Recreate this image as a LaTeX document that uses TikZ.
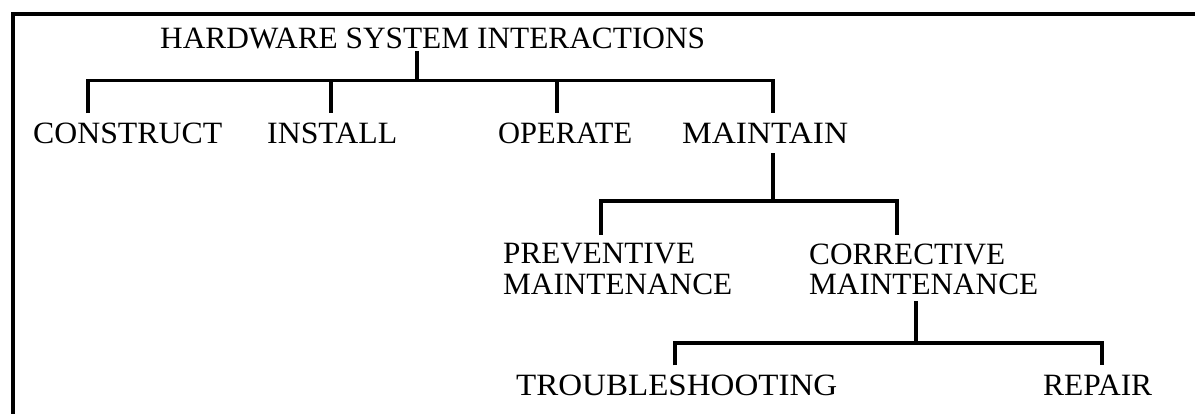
\documentclass[tikz,border=0pt]{standalone}
\usepackage{fontspec}
\setmainfont{Liberation Serif}
\usepackage{graphicx}
\newcommand{\fitw}[2]{\resizebox{#1pt}{\height}{#2}}
\begin{document}
\begin{tikzpicture}[x=1pt,y=-1pt,
  lbl/.style={inner xsep=0pt, inner ysep=2pt, font=\fontsize{31}{30.6}\selectfont, anchor=base west},
  lbltwo/.style={lbl, anchor=north west, align=left},
  conn/.style={line width=3.8pt, line cap=butt, line join=miter},
  framel/.style={line width=4pt, line join=miter}]
\useasboundingbox (0,0) rectangle (1195,414);
\draw[framel] (13,420) -- (13,14) -- (1200,14);

% labels
\node[lbl] (hsi)  at (160,48.3)  {\fitw{545}{HARDWARE SYSTEM INTERACTIONS}};
\node[lbl] (cons) at (33,143.3)  {\fitw{189}{CONSTRUCT}};
\node[lbl] (inst) at (267,143.3) {\fitw{130}{INSTALL}};
\node[lbl] (oper) at (498,143.3) {\fitw{134}{OPERATE}};
\node[lbl] (main) at (682,143.3) {\fitw{166}{MAINTAIN}};
\node[lbltwo] (prev) at (503,241.3) {\fitw{192}{PREVENTIVE}\\\fitw{229}{MAINTENANCE}};
\node[lbltwo] (corr) at (809,241.3) {\fitw{196}{CORRECTIVE}\\\fitw{229}{MAINTENANCE}};
\node[lbl] (trou) at (516,395)   {\fitw{321}{TROUBLESHOOTING}};
\node[lbl] (rep)  at (1043,395)  {\fitw{109}{REPAIR}};

% junction coordinates
\coordinate (j0) at (416.7,80.5);
\coordinate (j1) at (88,80.5);
\coordinate (j2) at (331,80.5);
\coordinate (j3) at (556.7,80.5);
\coordinate (j4) at (773,80.5);
\coordinate (k0) at (773,200.7);
\coordinate (k1) at (601,200.7);
\coordinate (k2) at (897.3,200.7);
\coordinate (m0) at (915.7,343.3);
\coordinate (m1) at (675,343.3);
\coordinate (m2) at (1102.3,343.3);

% level 1
\draw[conn] (hsi.south -| j0) -- (j0);
\draw[conn] ([yshift=7.5pt]cons.north -| j1) |- (j0) -| ([yshift=7.5pt]main.north -| j4);
\draw[conn] (j2) -- ([yshift=7.5pt]inst.north -| j2);
\draw[conn] (j3) -- ([yshift=7.5pt]oper.north -| j3);

% level 2
\draw[conn] ([yshift=-7.7pt]main.south -| k0) -- (k0);
\draw[conn] ([yshift=6.3pt]prev.north -| k1) |- (k0) -| ([yshift=6.3pt]corr.north -| k2);

% level 3
\draw[conn] ([yshift=-4pt]corr.south -| m0) -- (m0);
\draw[conn] ([yshift=7pt]trou.north -| m1) |- (m0) -| ([yshift=7.5pt]rep.north -| m2);
\end{tikzpicture}
\end{document}
